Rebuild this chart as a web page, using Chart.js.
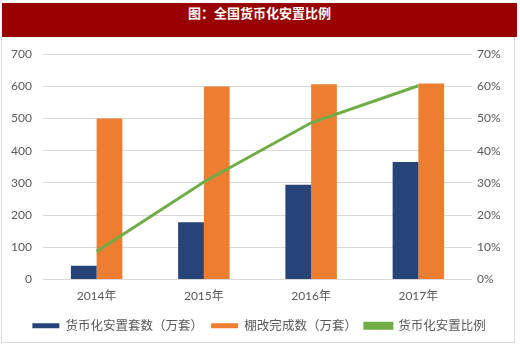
<!DOCTYPE html>
<html>
<head>
<meta charset="utf-8">
<script src="https://cdn.jsdelivr.net/npm/chart.js@4/dist/chart.umd.min.js"></script>
<style>
    html, body {margin: 0; padding: 0; background: #fff;}
    body {width: 520px; height: 351px; position: relative; overflow: hidden;}
    #title {
        position: absolute; left: 2px; top: 3px; width: 515px; height: 34px;
        background: #990000; color: #fff; text-align: center; line-height: 34px;
        font: bold 13px "Noto Sans CJK SC", sans-serif; z-index: 2;
    }
    #frame {
        position: absolute; left: 1px; top: 37px; width: 512px; height: 305px;
        border: 1px solid #d9d9d9; border-top: none;
    }
    #wrap {position: absolute; left: 0; top: 36px; width: 518px; height: 307px;}
</style>
</head>
<body>
<div id="title">图：全国货币化安置比例</div>
<div id="frame"></div>
<div id="wrap"><canvas id="chart"></canvas></div>
<script>
const years = ['2014年', '2015年', '2016年', '2017年'];
const monetizedUnits = [43, 178, 294, 365];      // 货币化安置套数（万套）
const renovationDone = [500, 600, 607, 609];     // 棚改完成数（万套）
const monetizedRatio = [8.7, 30.3, 48.7, 60.2];  // 货币化安置比例 (%)

const gray = '#595959';
const fontFamily = "Lato, 'Noto Sans CJK SC', sans-serif";

const ctx = document.getElementById('chart').getContext('2d');
new Chart(ctx, {
    type: 'bar',
    data: {
        labels: years,
        datasets: [
            {
                label: '货币化安置套数（万套）',
                data: monetizedUnits,
                backgroundColor: '#264478',
                yAxisID: 'y',
                order: 1
            },
            {
                label: '棚改完成数（万套）',
                data: renovationDone,
                backgroundColor: '#ED7D31',
                yAxisID: 'y',
                order: 1
            },
            {
                type: 'line',
                label: '货币化安置比例',
                data: monetizedRatio,
                borderColor: '#70AD47',
                backgroundColor: '#70AD47',
                borderWidth: 3,
                pointRadius: 0,
                tension: 0,
                yAxisID: 'y1',
                order: 0
            }
        ]
    },
    options: {
        responsive: true,
        maintainAspectRatio: false,
        animation: false,
        barPercentage: 1,
        categoryPercentage: 0.48,
        layout: {padding: {top: 11, left: 0, right: 0, bottom: 1}},
        plugins: {
            legend: {
                position: 'bottom',
                labels: {
                    sort: (a, b) => a.datasetIndex - b.datasetIndex,
                    boxWidth: 27,
                    boxHeight: 5,
                    padding: 8,
                    color: gray,
                    font: {family: fontFamily, size: 12.5}
                }
            },
            tooltip: {enabled: false}
        },
        scales: {
            x: {
                grid: {display: false, drawTicks: false},
                border: {display: false},
                ticks: {color: gray, padding: 9, font: {family: fontFamily, size: 12}},
                afterFit: scale => { scale.height = 32; }
            },
            y: {
                position: 'left',
                min: 0,
                max: 700,
                ticks: {stepSize: 100, color: gray, padding: 11, font: {family: fontFamily, size: 12}},
                grid: {color: '#d9d9d9', drawTicks: false},
                border: {display: false},
                afterFit: scale => { scale.width = 43; }
            },
            y1: {
                position: 'right',
                min: 0,
                max: 70,
                ticks: {
                    stepSize: 10,
                    color: gray,
                    padding: 5,
                    font: {family: fontFamily, size: 12},
                    callback: value => value + '%'
                },
                grid: {display: false, drawTicks: false},
                border: {display: false},
                afterFit: scale => { scale.width = 46; }
            }
        }
    }
});
</script>
</body>
</html>
